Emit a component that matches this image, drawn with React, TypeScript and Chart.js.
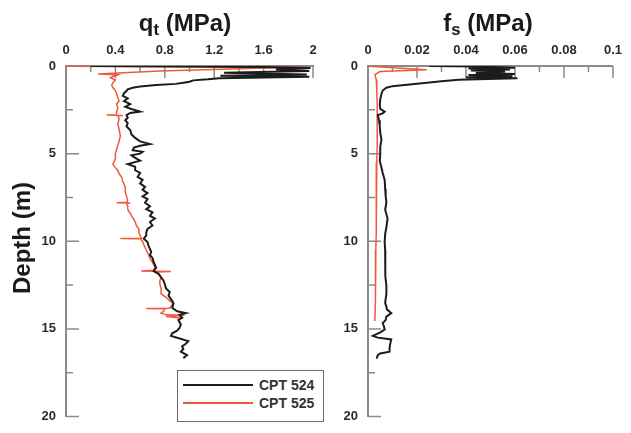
import { useEffect, useRef } from 'react'
import { Chart, registerables } from 'chart.js'

Chart.register(...registerables)

// CPT 524 / CPT 525 profiles (depth in m)
const seriesNames = ['CPT 524', 'CPT 525']
const seriesColors = ['#1c1c1c', '#f2583c']
const seriesWidths = [2, 1.5]

const qtDepth524 = [0, 0.05, 0.12, 0.2, 0.28, 0.38, 0.48, 0.55, 0.62, 0.7, 0.76, 0.82, 0.9, 0.96, 1.02, 1.09, 1.17, 1.24, 1.33, 1.43, 1.55, 1.7, 1.85, 2.0, 2.17, 2.33, 2.45, 2.6, 2.68, 2.8, 2.95, 3.1, 3.25, 3.45, 3.65, 3.9, 4.1, 4.3, 4.45, 4.55, 4.65, 4.8, 4.9, 5.0, 5.1, 5.2, 5.4, 5.6, 5.75, 5.95, 6.1, 6.33, 6.5, 6.7, 6.9, 7.06, 7.25, 7.44, 7.6, 7.8, 8.0, 8.17, 8.35, 8.55, 8.7, 8.9, 9.1, 9.3, 9.5, 9.67, 9.85, 10.04, 10.3, 10.6, 10.8, 10.95, 11.2, 11.5, 11.7, 11.85, 12.06, 12.25, 12.44, 12.7, 12.9, 13.1, 13.4, 13.56, 13.8, 14.0, 14.1, 14.2, 14.35, 14.5, 14.75, 14.94, 15.1, 15.25, 15.4, 15.55, 15.7, 15.85, 16.0, 16.15, 16.3, 16.5, 16.67]
const qt524 = [0.2, 1.55, 1.98, 1.7, 1.97, 1.28, 1.95, 1.25, 1.97, 1.24, 1.15, 1.03, 1.0, 0.95, 0.89, 0.73, 0.6, 0.54, 0.5, 0.49, 0.47, 0.46, 0.5, 0.47, 0.52, 0.48, 0.53, 0.6, 0.52, 0.49, 0.5, 0.48, 0.5, 0.49, 0.52, 0.53, 0.56, 0.6, 0.68, 0.6, 0.55, 0.54, 0.62, 0.6, 0.53, 0.55, 0.6, 0.5, 0.56, 0.56, 0.6, 0.58, 0.62, 0.6, 0.64, 0.62, 0.66, 0.62, 0.66, 0.64, 0.68, 0.65, 0.7, 0.68, 0.72, 0.68, 0.7, 0.66, 0.65, 0.65, 0.63, 0.66, 0.67, 0.69, 0.68, 0.7, 0.71, 0.73, 0.71, 0.75, 0.77, 0.79, 0.8, 0.81, 0.84, 0.83, 0.86, 0.87, 0.86, 0.9, 0.97, 0.92, 0.94, 0.91, 0.93, 0.92, 0.9, 0.86, 0.85, 0.92, 0.99, 0.97, 0.94, 0.95, 0.93, 0.98, 0.95]

const qtDepth525 = [0.02, 0.05, 0.28, 0.46, 0.5, 0.6, 0.67, 0.8, 0.95, 1.1, 1.24, 1.4, 1.6, 1.8, 2.0, 2.17, 2.4, 2.6, 2.78, 2.8, 2.82, 2.85, 3.0, 3.3, 3.6, 4.0, 4.3, 4.5, 4.76, 5.0, 5.3, 5.6, 5.8, 5.96, 6.15, 6.33, 6.6, 6.9, 7.2, 7.44, 7.65, 7.78, 7.8, 7.82, 7.85, 8.0, 8.2, 8.4, 8.55, 8.75, 8.9, 9.1, 9.3, 9.5, 9.67, 9.83, 9.85, 9.87, 10.0, 10.2, 10.5, 10.8, 11.0, 11.2, 11.33, 11.5, 11.65, 11.7, 11.72, 11.75, 11.9, 12.06, 12.25, 12.44, 12.7, 13.0, 13.2, 13.4, 13.55, 13.7, 13.82, 13.84, 13.87, 14.0, 14.1, 14.2, 14.22, 14.3, 14.4]
const qt525 = [0, 1.9, 0.76, 0.26, 0.42, 0.38, 0.36, 0.4, 0.38, 0.37, 0.38, 0.4, 0.41, 0.42, 0.43, 0.41, 0.42, 0.41, 0.41, 0.33, 0.46, 0.42, 0.43, 0.42, 0.43, 0.44, 0.43, 0.42, 0.41, 0.4, 0.4, 0.38, 0.4, 0.42, 0.43, 0.45, 0.46, 0.48, 0.48, 0.49, 0.5, 0.49, 0.41, 0.52, 0.49, 0.5, 0.5, 0.52, 0.53, 0.55, 0.56, 0.57, 0.59, 0.59, 0.6, 0.61, 0.44, 0.6, 0.62, 0.63, 0.65, 0.67, 0.68, 0.7, 0.71, 0.72, 0.71, 0.61, 0.85, 0.72, 0.75, 0.77, 0.76, 0.76, 0.77, 0.77, 0.81, 0.84, 0.87, 0.85, 0.84, 0.65, 0.8, 0.79, 0.77, 0.81, 0.96, 0.81, 0.95]

const fsDepth524 = [0, 0.03, 0.1, 0.14, 0.2, 0.26, 0.32, 0.4, 0.46, 0.52, 0.58, 0.64, 0.7, 0.78, 0.87, 0.96, 1.05, 1.15, 1.24, 1.4, 1.6, 1.9, 2.2, 2.45, 2.6, 2.7, 2.8, 3.1, 3.4, 3.8, 4.2, 4.6, 5.04, 5.4, 5.8, 6.1, 6.5, 7.0, 7.4, 7.8, 8.2, 8.7, 9.2, 9.6, 10.04, 10.5, 11.0, 11.5, 12.0, 12.5, 13.0, 13.5, 13.9, 14.1, 14.3, 14.5, 14.67, 14.85, 15.04, 15.2, 15.4, 15.5, 15.6, 15.9, 16.1, 16.3, 16.4, 16.5, 16.7]
const fs524 = [0.025, 0.045, 0.06, 0.041, 0.058, 0.042, 0.056, 0.044, 0.06, 0.041, 0.059, 0.04, 0.061, 0.037, 0.03, 0.024, 0.017, 0.01, 0.0075, 0.006, 0.0055, 0.005, 0.0048, 0.005, 0.0068, 0.006, 0.004, 0.0045, 0.0048, 0.005, 0.0055, 0.005, 0.005, 0.0048, 0.0055, 0.006, 0.0068, 0.007, 0.0072, 0.0075, 0.007, 0.008, 0.0075, 0.007, 0.0068, 0.007, 0.007, 0.0072, 0.007, 0.0075, 0.0075, 0.007, 0.0078, 0.0095, 0.0075, 0.0072, 0.006, 0.0065, 0.0068, 0.005, 0.002, 0.004, 0.0095, 0.009, 0.0088, 0.0088, 0.005, 0.004, 0.0035]

const fsDepth525 = [0, 0.03, 0.22, 0.32, 0.5, 0.8, 1.5, 2.5, 3.5, 4.5, 5.5, 6.5, 7.5, 8.5, 9.5, 10.5, 11.5, 12.5, 13.5, 14.55]
const fs525 = [0, 0.002, 0.024, 0.0048, 0.0028, 0.0034, 0.0036, 0.0038, 0.0038, 0.0037, 0.0036, 0.0035, 0.0034, 0.0033, 0.0033, 0.0032, 0.0031, 0.003, 0.003, 0.0028]

const qtTicks = [0, 0.4, 0.8, 1.2, 1.6, 2]
const fsTicks = [0, 0.02, 0.04, 0.06, 0.08, 0.1]
const depthTicks = [0, 5, 10, 15, 20]

const axisColor = '#8a8a8a'
const labelColor = '#2a2a2a'
const fontFamily = '"Liberation Sans", Arial, sans-serif'

const pts = (xs: number[], ds: number[]) => xs.map((x, i) => ({ x, y: ds[i] }))

// short inward tick marks on the top and left axes
const innerTicks = {
  id: 'innerTicks',
  beforeDatasetsDraw(chart: any, _a: any, opts: any) {
    const { ctx, chartArea } = chart
    const xs = chart.scales.x
    const ys = chart.scales.y
    ctx.save()
    ctx.strokeStyle = axisColor
    ctx.lineWidth = 1.5
    ctx.beginPath()
    const nx = Math.round((xs.max - xs.min) / opts.xMinor)
    for (let i = 1; i <= nx; i++) {
      const x = xs.getPixelForValue(xs.min + i * opts.xMinor)
      const len = i % 2 === 0 ? 12 : 6
      ctx.moveTo(x, chartArea.top)
      ctx.lineTo(x, chartArea.top + len)
    }
    const ny = Math.round((ys.max - ys.min) / 2.5)
    for (let i = 1; i <= ny; i++) {
      const y = ys.getPixelForValue(ys.min + i * 2.5)
      const len = i % 2 === 0 ? 13 : 7
      ctx.moveTo(chartArea.left, y)
      ctx.lineTo(chartArea.left + len, y)
    }
    ctx.stroke()
    ctx.restore()
  },
}

function makeConfig(
  sets: { x: number; y: number }[][],
  xMax: number,
  xTicks: number[],
  xMinor: number,
  yWidth: number,
  padRight: number,
) {
  const tickFont = { family: fontFamily, size: 13, weight: 'bold' as const, lineHeight: 1 }
  return {
    type: 'scatter' as const,
    data: {
      datasets: sets.map((data, i) => ({
        label: seriesNames[i],
        data,
        showLine: true,
        borderColor: seriesColors[i],
        borderWidth: seriesWidths[i],
        pointRadius: 0,
        tension: 0,
      })),
    },
    options: {
      animation: false as const,
      responsive: false,
      maintainAspectRatio: false,
      layout: { padding: { top: 36, right: padRight, bottom: 7, left: 0 } },
      plugins: {
        legend: { display: false },
        tooltip: { enabled: false },
        innerTicks: { xMinor },
      },
      scales: {
        x: {
          type: 'linear' as const,
          position: 'top' as const,
          min: 0,
          max: xMax,
          afterFit: (s: any) => { s.height = 30 },
          afterBuildTicks: (s: any) => { s.ticks = xTicks.map((value) => ({ value })) },
          ticks: { padding: 9, color: labelColor, font: tickFont, maxRotation: 0, callback: (v: any) => String(v) },
          grid: { display: false, drawTicks: false },
          border: { display: true, color: axisColor, width: 2 },
        },
        y: {
          type: 'linear' as const,
          reverse: true,
          min: 0,
          max: 20,
          afterFit: (s: any) => { s.width = yWidth },
          afterBuildTicks: (s: any) => { s.ticks = depthTicks.map((value) => ({ value })) },
          ticks: { padding: 10, color: labelColor, font: tickFont, callback: (v: any) => String(v) },
          grid: { display: false, drawTicks: false },
          border: { display: true, color: axisColor, width: 2 },
        },
      },
    },
    plugins: [innerTicks],
  }
}

export default function App() {
  const qtRef = useRef<HTMLCanvasElement | null>(null)
  const fsRef = useRef<HTMLCanvasElement | null>(null)

  useEffect(() => {
    if (!qtRef.current || !fsRef.current) return
    const qtChart = new Chart(
      qtRef.current,
      makeConfig([pts(qt524, qtDepth524), pts(qt525, qtDepth525)], 2, qtTicks, 0.2, 66, 17) as any,
    )
    const fsChart = new Chart(
      fsRef.current,
      makeConfig([pts(fs524, fsDepth524), pts(fs525, fsDepth525)], 0.1, fsTicks, 0.01, 38, 13) as any,
    )
    return () => {
      qtChart.destroy()
      fsChart.destroy()
    }
  }, [])

  const titleStyle = {
    position: 'absolute' as const,
    top: 11,
    transform: 'translateX(-50%)',
    font: `bold 24px ${fontFamily}`,
    lineHeight: '24px',
    color: '#1a1a1a',
    whiteSpace: 'nowrap' as const,
  }
  const subStyle = { fontSize: '0.7em', verticalAlign: '-0.22em', lineHeight: 0 }

  return (
    <div style={{ position: 'fixed', left: 0, top: 0, width: 631, height: 433, background: '#fff', overflow: 'hidden' }}>
      <canvas ref={qtRef} width={330} height={433} style={{ position: 'absolute', left: 0, top: 0 }} />
      <canvas ref={fsRef} width={301} height={433} style={{ position: 'absolute', left: 330, top: 0 }} />
      <div style={{ ...titleStyle, left: 185 }}>
        q<span style={subStyle}>t</span> (MPa)
      </div>
      <div style={{ ...titleStyle, left: 488 }}>
        f<span style={subStyle}>s</span> (MPa)
      </div>
      <div
        style={{
          position: 'absolute',
          left: 22,
          top: 238,
          transform: 'translate(-50%, -50%) rotate(-90deg)',
          font: `bold 24px ${fontFamily}`,
          lineHeight: '24px',
          color: '#1a1a1a',
          whiteSpace: 'nowrap',
        }}
      >
        Depth (m)
      </div>
      <div
        style={{
          position: 'absolute',
          left: 177,
          top: 370,
          width: 147,
          height: 52,
          boxSizing: 'border-box',
          border: '1.5px solid #6b6b6b',
          background: '#fff',
        }}
      >
        {seriesNames.map((name, i) => (
          <div
            key={name}
            style={{ position: 'absolute', left: 5, top: 6 + i * 18, height: 16, display: 'flex', alignItems: 'center' }}
          >
            <span style={{ display: 'block', width: 70, height: 0, borderTop: `2px solid ${seriesColors[i]}` }} />
            <span style={{ marginLeft: 6, font: `bold 14px ${fontFamily}`, color: '#333' }}>{name}</span>
          </div>
        ))}
      </div>
    </div>
  )
}
